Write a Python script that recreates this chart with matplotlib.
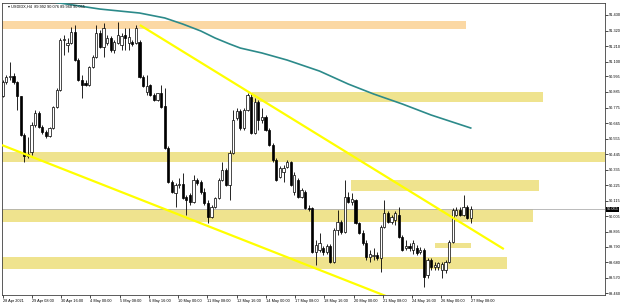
import numpy as np
import matplotlib
matplotlib.use('Agg')
from matplotlib import pyplot as plt
from matplotlib.patches import Rectangle
import matplotlib.transforms as mtransforms

plt.rcParams['font.family'] = ['Liberation Sans', 'DejaVu Sans']

# USDIDX H4 candles, 28 Apr - 27 May 2021
opens = [90.856, 90.955, 90.991, 90.998, 90.955, 90.856, 90.580, 90.432, 90.460, 90.651,
         90.736, 90.637, 90.601, 90.573, 90.630, 90.778, 90.899, 91.253, 91.217, 91.232,
         91.309, 91.111, 90.970, 90.948, 90.934, 91.062, 91.132, 91.302, 91.203, 91.232,
         91.267, 91.182, 91.232, 91.217, 91.288, 91.232, 91.239, 91.232, 91.239, 90.991,
         90.885, 90.934, 90.863, 90.828, 90.878, 90.786, 90.488, 90.247, 90.170, 90.226,
         90.233, 90.141, 90.155, 90.106, 90.262, 90.247, 90.177, 90.099, 90.000, 90.070,
         90.134, 90.262, 90.332, 90.226, 90.453, 90.701, 90.750, 90.630, 90.757, 90.849,
         90.594, 90.814, 90.686, 90.708, 90.616, 90.509, 90.403, 90.283, 90.318, 90.354,
         90.389, 90.177, 90.262, 90.141, 90.177, 90.063, 90.063, 89.752, 89.766, 89.780,
         89.752, 89.794, 89.681, 89.908, 89.964, 89.893, 90.141, 90.106, 90.120, 89.957,
         89.886, 89.816, 89.716, 89.724, 89.731, 89.709, 89.929, 90.028, 89.964, 89.978,
         90.014, 89.858, 89.780, 89.794, 89.766, 89.780, 89.752, 89.766, 89.589, 89.695,
         89.646, 89.646, 89.624, 89.624, 89.681, 89.823, 90.014, 90.049, 90.014, 90.070,
         89.992]
highs = [90.970, 91.005, 91.097, 91.019, 90.963, 90.856, 90.594, 90.566, 90.672, 90.757,
         90.750, 90.651, 90.616, 90.637, 90.786, 90.913, 91.267, 91.288, 91.267, 91.345,
         91.359, 91.125, 91.005, 90.970, 91.069, 91.147, 91.359, 91.324, 91.373, 91.288,
         91.281, 91.253, 91.380, 91.302, 91.338, 91.338, 91.253, 91.359, 91.253, 91.005,
         91.005, 90.941, 90.878, 90.878, 90.934, 90.913, 90.502, 90.262, 90.240, 90.276,
         90.311, 90.155, 90.170, 90.297, 90.276, 90.262, 90.205, 90.120, 90.085, 90.141,
         90.276, 90.389, 90.347, 90.474, 90.757, 90.771, 90.764, 90.771, 90.878, 90.878,
         90.842, 90.828, 90.771, 90.722, 90.630, 90.524, 90.417, 90.361, 90.368, 90.403,
         90.396, 90.318, 90.276, 90.205, 90.191, 90.085, 90.070, 89.837, 89.886, 89.794,
         89.808, 89.808, 89.922, 90.049, 89.978, 90.262, 90.177, 90.170, 90.127, 89.964,
         89.908, 89.837, 89.766, 89.780, 89.752, 89.943, 90.120, 90.042, 90.014, 90.042,
         90.070, 89.872, 89.837, 89.816, 89.837, 89.801, 89.787, 89.780, 89.709, 89.709,
         89.681, 89.681, 89.681, 89.695, 89.837, 90.063, 90.070, 90.070, 90.155, 90.085,
         90.076]
lows = [90.849, 90.941, 90.970, 90.941, 90.757, 90.573, 90.389, 90.417, 90.439, 90.637,
        90.630, 90.587, 90.559, 90.566, 90.623, 90.771, 90.892, 91.147, 91.168, 91.224,
        91.104, 90.963, 90.842, 90.927, 90.927, 91.055, 91.125, 91.196, 91.132, 91.217,
        91.168, 91.161, 91.224, 91.182, 91.182, 91.182, 91.210, 91.224, 90.984, 90.920,
        90.863, 90.856, 90.821, 90.821, 90.771, 90.481, 90.240, 90.170, 90.070, 90.205,
        90.127, 90.014, 90.085, 90.099, 90.226, 90.162, 90.085, 89.957, 89.993, 90.063,
        90.127, 90.255, 90.219, 90.120, 90.446, 90.686, 90.616, 90.616, 90.750, 90.587,
        90.587, 90.616, 90.665, 90.609, 90.502, 90.389, 90.255, 90.276, 90.247, 90.347,
        90.219, 90.155, 90.134, 90.134, 90.056, 90.042, 89.745, 89.660, 89.752, 89.731,
        89.738, 89.674, 89.674, 89.872, 89.879, 89.886, 90.099, 90.085, 89.950, 89.879,
        89.801, 89.695, 89.681, 89.695, 89.695, 89.610, 89.922, 89.957, 89.950, 89.943,
        89.851, 89.759, 89.766, 89.759, 89.738, 89.731, 89.738, 89.504, 89.568, 89.624,
        89.624, 89.624, 89.568, 89.603, 89.674, 89.816, 90.007, 90.007, 90.007, 89.985,
        89.960]
closes = [90.955, 90.991, 90.998, 90.955, 90.856, 90.580, 90.432, 90.446, 90.651, 90.736,
          90.637, 90.601, 90.573, 90.630, 90.778, 90.899, 91.253, 91.260, 91.232, 91.309,
          91.111, 90.970, 90.934, 90.934, 91.062, 91.132, 91.302, 91.203, 91.338, 91.267,
          91.182, 91.239, 91.288, 91.281, 91.267, 91.274, 91.224, 91.338, 90.991, 90.927,
          90.927, 90.863, 90.828, 90.878, 90.778, 90.488, 90.247, 90.177, 90.226, 90.233,
          90.134, 90.120, 90.106, 90.262, 90.240, 90.177, 90.099, 90.000, 90.070, 90.134,
          90.262, 90.332, 90.226, 90.453, 90.686, 90.750, 90.630, 90.757, 90.863, 90.594,
          90.814, 90.686, 90.708, 90.616, 90.509, 90.403, 90.262, 90.347, 90.347, 90.389,
          90.226, 90.297, 90.141, 90.191, 90.063, 90.060, 89.752, 89.801, 89.816, 89.752,
          89.794, 89.681, 89.908, 89.964, 89.893, 90.141, 90.106, 90.127, 89.957, 89.886,
          89.816, 89.716, 89.738, 89.731, 89.709, 89.929, 90.028, 89.964, 90.000, 90.028,
          89.858, 89.766, 89.794, 89.780, 89.816, 89.745, 89.766, 89.575, 89.695, 89.646,
          89.660, 89.674, 89.667, 89.681, 89.823, 90.049, 90.049, 90.014, 90.070, 89.993,
          90.055]

# moving average (teal), sampled at a few bars
ma_bar = [8, 15, 27, 38, 45, 50, 55, 59, 63, 66, 72, 79, 88, 96, 103, 111, 119, 130]
ma_val = [91.550, 91.518, 91.472, 91.444, 91.409, 91.366, 91.317, 91.267, 91.225, 91.196,
          91.161, 91.111, 91.033, 90.941, 90.871, 90.800, 90.722, 90.630]

# support / resistance boxes: (bar_from, bar_to, price_low, price_high, colour)
zones = [(-1, 128.7, 91.331, 91.387, '#FBD8A4'),
         (69.2, 150, 90.816, 90.883, '#EFE38E'),
         (-1, 170, 90.391, 90.458, '#EFE38E'),
         (96.7, 149, 90.186, 90.262, '#EFE38E'),
         (-1, 147.3, 89.966, 90.056, '#EFE38E'),
         (120, 130, 89.778, 89.813, '#EFE38E'),
         (-1, 140.1, 89.632, 89.719, '#EFE38E')]

# yellow trend lines: (bar0, price0, bar1, price1)
trend_lines = [(38.1, 91.359, 139.2, 89.773),
               (-0.2, 90.509, 106.5, 89.440)]

ytick_vals = [91.430, 91.320, 91.210, 91.100, 90.995, 90.885, 90.775, 90.665, 90.555,
              90.445, 90.335, 90.225, 90.115, 90.005, 89.895, 89.790, 89.680, 89.570, 89.460]
xtick_labels = ['28 Apr 2021', '29 Apr 08:00', '30 Apr 16:00', '4 May 00:00', '5 May 08:00',
                '6 May 16:00', '10 May 00:00', '11 May 08:00', '12 May 16:00', '14 May 00:00',
                '17 May 08:00', '18 May 16:00', '20 May 00:00', '21 May 08:00', '24 May 16:00',
                '26 May 00:00', '27 May 08:00']
symbol = 'USDIDX,H4'
bid = 90.055

fs = 2.8
n = len(closes)
fig = plt.figure(figsize=(6.25, 3.08), dpi=100)
ax = fig.add_axes([2/625, 13/308, 603/625, 292.3/308])
ax.set_xlim(-0.2, 167.3)
ax.set_ylim(89.448, 91.517)

for x0, x1, lo, hi, c in zones:
    ax.add_patch(Rectangle((x0, lo), x1 - x0, hi - lo, facecolor=c, edgecolor='none', zorder=1))

ax.axhline(bid, color='#B0B0B0', lw=0.6, zorder=1.5)

w = 0.62
for i in range(n):
    o, h, l, c = opens[i], highs[i], lows[i], closes[i]
    ax.vlines(i, l, h, color='black', lw=0.6, zorder=2)
    bull = c >= o
    ax.add_patch(Rectangle((i - w/2, min(o, c)), w, max(abs(c - o), 0.002),
                           facecolor='white' if bull else 'black',
                           edgecolor='black', lw=0.5, zorder=3))

ax.plot(ma_bar, ma_val, color='#2C8A8A', lw=1.2, zorder=4)
for x0, p0, x1, p1 in trend_lines:
    ax.plot([x0, x1], [p0, p1], color='#FFFF00', lw=1.6, zorder=5, solid_capstyle='butt')

ax.yaxis.tick_right()
ax.set_yticks(ytick_vals)
ax.set_yticklabels(['%.3f' % v for v in ytick_vals])
ax.tick_params(axis='y', direction='out', length=2, width=0.5, pad=1, labelsize=fs)
ax.set_xticks(np.linspace(0, n - 1, len(xtick_labels)))
ax.set_xticklabels(xtick_labels, ha='left')
ax.tick_params(axis='x', direction='out', length=2, width=0.5, pad=1, labelsize=fs)
for s in ax.spines.values():
    s.set_linewidth(0.6)
    s.set_color('#404040')

tr = mtransforms.blended_transform_factory(ax.transAxes, ax.transData)
ax.text(1.003, bid, '%.3f' % bid, transform=tr, fontsize=fs, color='white', va='center',
        ha='left', bbox=dict(facecolor='black', edgecolor='none', pad=0.5), zorder=6,
        clip_on=False)

fig.text(0.012, 0.978, '\u25be %s  %.3f %.3f %.3f %.3f' % (symbol, opens[-1], highs[-1], lows[-1], closes[-1]),
         fontsize=fs, va='center', ha='left', color='black')

fig.savefig('out.png', dpi=100, facecolor='white')
